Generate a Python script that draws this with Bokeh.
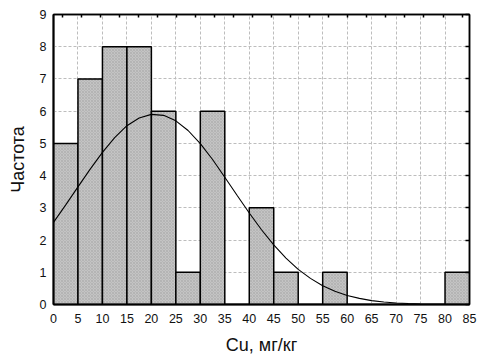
from bokeh.plotting import figure
from bokeh.models import LinearAxis, FixedTicker, Range1d
from bokeh.embed import file_html
from bokeh.resources import INLINE

bin_left = [0, 5, 10, 15, 20, 25, 30, 35, 40, 45, 50, 55, 60, 65, 70, 75, 80]
bin_right = [5, 10, 15, 20, 25, 30, 35, 40, 45, 50, 55, 60, 65, 70, 75, 80, 85]
counts = [5, 7, 8, 8, 6, 1, 6, 0, 3, 1, 0, 1, 0, 0, 0, 0, 1]

curve_x = [0, 2.5, 5, 7.5, 10, 12.5, 15, 17.5, 20, 22.5, 25, 27.5, 30, 32.5, 35,
           37.5, 40, 42.5, 45, 47.5, 50, 52.5, 55, 57.5, 60, 62.5, 65, 67.5, 70,
           72.5, 75, 77.5, 80, 82.5, 85]
curve_y = [2.55, 3.09, 3.65, 4.20, 4.72, 5.18, 5.55, 5.79, 5.90, 5.87, 5.70, 5.40,
           4.99, 4.50, 3.95, 3.39, 2.84, 2.32, 1.85, 1.44, 1.09, 0.81, 0.58, 0.41,
           0.28, 0.19, 0.12, 0.078, 0.048, 0.029, 0.017, 0.010, 0.006, 0.003, 0.002]

x_ticks = [0, 5, 10, 15, 20, 25, 30, 35, 40, 45, 50, 55, 60, 65, 70, 75, 80, 85]
y_ticks = [0, 1, 2, 3, 4, 5, 6, 7, 8, 9]
top_ticks = [1.8, 5.7, 9.6, 13.5, 17.4, 21.2, 25.1, 29.0, 32.9, 36.8, 40.7, 44.6,
             48.5, 52.3, 56.2, 60.1, 64.0, 67.9, 71.8, 75.7, 79.6, 83.5]
x_label = "Cu, мг/кг"
y_label = "Частота"

FONT = "Liberation Sans"

p = figure(width=481, height=361, output_backend="svg", toolbar_location=None,
           x_range=Range1d(0, 85), y_range=Range1d(0, 9),
           min_border_left=53, min_border_right=12, min_border_top=14,
           min_border_bottom=57)
p.background_fill_color = "white"
p.border_fill_color = "white"
p.outline_line_color = "black"
p.outline_line_width = 1.5

# grid
p.xgrid.ticker = FixedTicker(ticks=x_ticks)
p.ygrid.ticker = FixedTicker(ticks=y_ticks)
for g in (p.xgrid, p.ygrid):
    g.grid_line_color = "#bdbdbd"
    g.grid_line_dash = "3 2"
    g.grid_line_width = 1

# bars
p.quad(left=bin_left, right=bin_right, top=counts, bottom=0,
       fill_color="#c4c4c4", line_color="black", line_width=1.5,
       hatch_pattern="diagonal_cross", hatch_color="#a9a9a9", hatch_scale=3,
       hatch_weight=0.6)

# normal curve
p.line(curve_x, curve_y, line_color="black", line_width=1.1)

# bottom / left axes
xa = p.xaxis[0]
xa.ticker = FixedTicker(ticks=x_ticks)
xa.axis_label = x_label
ya = p.yaxis[0]
ya.ticker = FixedTicker(ticks=y_ticks)
ya.axis_label = y_label
for ax in (xa, ya):
    ax.axis_line_width = 2
    ax.axis_line_color = "black"
    ax.major_tick_out = 0
    ax.major_tick_in = 0
    ax.minor_tick_out = 0
    ax.minor_tick_in = 0
    ax.major_label_text_font = FONT
    ax.major_label_text_font_size = "12.5px"
    ax.major_label_text_color = "#111111"
    ax.axis_label_text_font = FONT
    ax.axis_label_text_font_size = "18px"
    ax.axis_label_text_font_style = "normal"
    ax.axis_label_text_color = "#111111"
xa.major_label_standoff = 9
xa.axis_label_standoff = 9
ya.major_label_standoff = 7
ya.axis_label_standoff = 9

# right axis with inward ticks (minor ticks only, so no labels)
ra = LinearAxis(ticker=FixedTicker(ticks=[], minor_ticks=y_ticks),
                major_tick_in=0, major_tick_out=0, minor_tick_in=4, minor_tick_out=0,
                axis_line_width=1.5, minor_tick_line_width=1.5,
                minor_tick_line_color="black")
p.add_layout(ra, "right")

ta = LinearAxis(ticker=FixedTicker(ticks=[], minor_ticks=top_ticks),
                major_tick_in=0, major_tick_out=0, minor_tick_in=3, minor_tick_out=0,
                axis_line_width=1.5, minor_tick_line_width=1.5,
                minor_tick_line_color="black")
p.add_layout(ta, "above")

open("out.html", "w").write(file_html(p, INLINE))
